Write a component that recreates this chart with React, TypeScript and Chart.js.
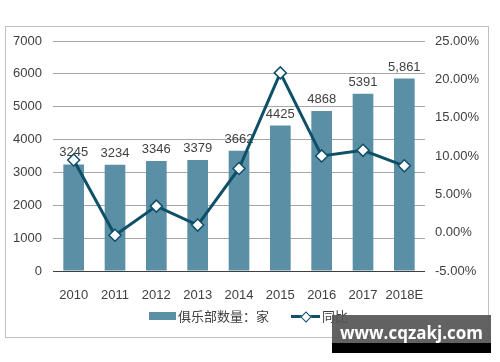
import React, { useEffect, useRef } from "react";
import { Chart, registerables } from "chart.js";

Chart.register(...registerables);

const categories = ["2010", "2011", "2012", "2013", "2014", "2015", "2016", "2017", "2018E"];
const clubCounts = [3245, 3234, 3346, 3379, 3662, 4425, 4868, 5391, 5861];
const clubLabels = ["3245", "3234", "3346", "3379", "3662", "4425", "4868", "5391", "5,861"];
const yoyGrowth = [0.0948, -0.0034, 0.0346, 0.0099, 0.0837, 0.2084, 0.1001, 0.1074, 0.0872];

const FONT = "'Liberation Sans', Arial, sans-serif";
const CJK = "'Noto Sans CJK SC', sans-serif";
const BAR_COLOR = "#5a8fa5";
const LINE_COLOR = "#0d5068";
const TEXT = "#404040";

const labelPlugin = {
  id: "barLabels",
  afterDatasetDraw(chart: any, args: any) {
    if (args.index !== 0) return;
    const ctx = chart.ctx;
    const meta = chart.getDatasetMeta(0);
    ctx.save();
    ctx.font = `13px ${FONT}`;
    ctx.fillStyle = TEXT;
    ctx.textAlign = "center";
    ctx.textBaseline = "bottom";
    meta.data.forEach((el: any, i: number) => {
      ctx.fillText(clubLabels[i], el.x, el.y - 5);
    });
    ctx.restore();
  },
};

function pct(v: any) {
  const r = Math.round(Number(v) * 10000) / 100;
  const s = (r === 0 ? 0 : r).toFixed(2);
  return s + "%";
}

export default function App() {
  const ref = useRef<HTMLCanvasElement | null>(null);
  useEffect(() => {
    document.body.style.margin = "0";
    const chart = new Chart(ref.current as HTMLCanvasElement, {
      type: "bar",
      data: {
        labels: categories,
        datasets: [
          {
            type: "bar",
            label: "俱乐部数量：家",
            data: clubCounts,
            backgroundColor: BAR_COLOR,
            categoryPercentage: 1,
            barPercentage: 0.5,
            yAxisID: "y",
            order: 1,
          },
          {
            type: "line",
            label: "同比",
            data: yoyGrowth,
            borderColor: LINE_COLOR,
            borderWidth: 3,
            pointStyle: "rectRot",
            pointRadius: 6,
            pointBackgroundColor: "#ffffff",
            pointBorderColor: LINE_COLOR,
            pointBorderWidth: 1.5,
            tension: 0,
            yAxisID: "y1",
            order: 0,
          } as any,
        ],
      },
      options: {
        responsive: false,
        animation: false,
        layout: { padding: { top: 41, left: 0, right: 0, bottom: 0 } },
        plugins: { legend: { display: false }, tooltip: { enabled: false } },
        scales: {
          x: {
            grid: { display: false },
            border: { display: false },
            ticks: { color: TEXT, font: { size: 13, family: FONT }, padding: 9, maxRotation: 0 },
            afterFit: (s: any) => {
              s.height = 91;
            },
          },
          y: {
            position: "left",
            min: 0,
            max: 7000,
            ticks: {
              stepSize: 1000,
              color: TEXT,
              font: { size: 13, family: FONT },
              padding: 11,
              callback: (v: any) => String(Math.round(Number(v))),
            },
            grid: {
              drawTicks: false,
              color: (c: any) => (c.tick && c.tick.value === 0 ? "#404040" : "#a6a6a6"),
              lineWidth: 1,
            },
            border: { display: false },
            afterFit: (s: any) => {
              s.width = 53;
            },
          },
          y1: {
            position: "right",
            min: -0.05,
            max: 0.25,
            ticks: {
              stepSize: 0.05,
              color: TEXT,
              font: { size: 13, family: FONT },
              padding: 10,
              callback: (v: any) => pct(v),
            },
            grid: { display: false, drawTicks: false },
            border: { display: false },
            afterFit: (s: any) => {
              s.width = 75;
            },
          },
        },
      },
      plugins: [labelPlugin],
    });
    return () => chart.destroy();
  }, []);

  return (
    <div style={{ position: "absolute", left: 0, top: 0, width: 500, height: 362, background: "#fff" }}>
      <div
        style={{
          position: "absolute",
          left: 5,
          top: 26,
          width: 482,
          height: 310,
          border: "1px solid #bfbfbf",
        }}
      />
      <canvas ref={ref} width={500} height={362} style={{ position: "absolute", left: 0, top: 0 }} />
      <div style={{ position: "absolute", left: 149, top: 312, width: 27, height: 8, background: BAR_COLOR }} />
      <div
        style={{
          position: "absolute",
          left: 178,
          top: 306,
          fontFamily: CJK,
          fontSize: 13,
          lineHeight: "20px",
          color: TEXT,
          whiteSpace: "nowrap",
        }}
      >
        俱乐部数量：家
      </div>
      <div style={{ position: "absolute", left: 291, top: 315, width: 29, height: 3, background: LINE_COLOR }} />
      <div
        style={{
          position: "absolute",
          left: 302,
          top: 313,
          width: 6,
          height: 6,
          background: "#fff",
          border: `1px solid ${LINE_COLOR}`,
          transform: "rotate(45deg)",
        }}
      />
      <div
        style={{
          position: "absolute",
          left: 322,
          top: 306,
          fontFamily: CJK,
          fontSize: 13,
          lineHeight: "20px",
          color: TEXT,
          whiteSpace: "nowrap",
        }}
      >
        同比
      </div>
      <div style={{ position: "absolute", left: 332, top: 315, width: 159, height: 28, background: "rgba(85,85,85,0.92)" }} />
      <div style={{ position: "absolute", left: 332, top: 343, width: 159, height: 10, background: "#000" }} />
      <div
        style={{
          position: "absolute",
          left: 332,
          top: 322,
          width: 159,
          textAlign: "center",
          fontFamily: "'Open Sans', sans-serif",
          fontWeight: 700,
          fontSize: 17,
          lineHeight: "22px",
          color: "#fff",
          whiteSpace: "nowrap",
        }}
      >
        www.cqzakj.com
      </div>
    </div>
  );
}
